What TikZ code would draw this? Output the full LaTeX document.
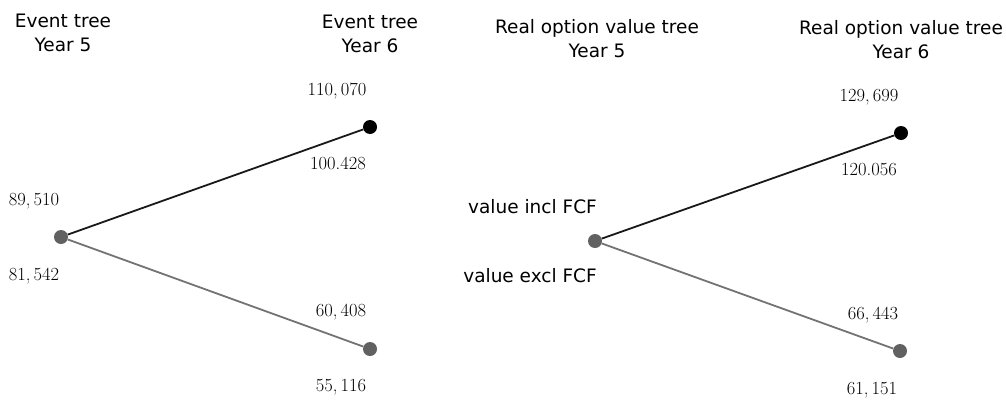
\documentclass[tikz,border=0pt]{standalone}
\usepackage{fontspec}
\setsansfont{DejaVu Sans}
\begin{document}
\begin{tikzpicture}[x=1pt,y=-1pt,
  ttl/.style={font=\sffamily\fontsize{18.5}{24}\selectfont, align=center, inner sep=0pt, anchor=base},
  vlab/.style={font=\sffamily\fontsize{18.5}{24}\selectfont, inner sep=0pt, anchor=base east},
  numlab/.style={font=\fontsize{18.5}{22}\selectfont, inner sep=0pt, anchor=base},
  blackdot/.style={circle, fill=black, minimum size=14pt, inner sep=0pt},
  graydot/.style={circle, fill=black!62, minimum size=14pt, inner sep=0pt},
  upline/.style={line width=1.8pt, black!90},
  downline/.style={line width=1.8pt, black!55}]
\useasboundingbox (0,0) rectangle (1006,399);
% left event tree
\node[graydot] (A) at (61,237) {};
\node[blackdot] (AU) at (370,127) {};
\node[graydot] (AD) at (370,349) {};
\draw[upline] (A) -- (AU);
\draw[downline] (A) -- (AD);
\node[ttl] (t1) at (63,27) {Event tree};
\node[ttl] (t2) at (63,51) {Year 5};
\node[ttl] (t3) at (370,28) {Event tree};
\node[ttl] (t4) at (370,52) {Year 6};
\node[numlab] (n1) at (337,95) {110,\,070};
\node[numlab] (n2) at (338,169) {100.428};
\node[numlab] (n3) at (34,205) {89,\,510};
\node[numlab] (n4) at (34,280) {81,\,542};
\node[numlab] (n5) at (341,316) {60,\,408};
\node[numlab] (n6) at (341,391) {55,\,116};
% right real option value tree
\node[graydot] (B) at (595,241) {};
\node[blackdot] (BU) at (901,133) {};
\node[graydot] (BD) at (900,351) {};
\draw[upline] (B) -- (BU);
\draw[downline] (B) -- (BD);
\node[ttl] (r1) at (597,33) {Real option value tree};
\node[ttl] (r2) at (597,57) {Year 5};
\node[ttl] (r3) at (901,34) {Real option value tree};
\node[ttl] (r4) at (901,58) {Year 6};
\node[vlab] (v1) at (597,213) {value incl FCF};
\node[vlab] (v2) at (597,282) {value excl FCF};
\node[numlab] (m1) at (869,101) {129,\,699};
\node[numlab] (m2) at (869,175) {120.056};
\node[numlab] (m3) at (873,319) {66,\,443};
\node[numlab] (m4) at (872,394) {61,\,151};
\end{tikzpicture}
\end{document}
